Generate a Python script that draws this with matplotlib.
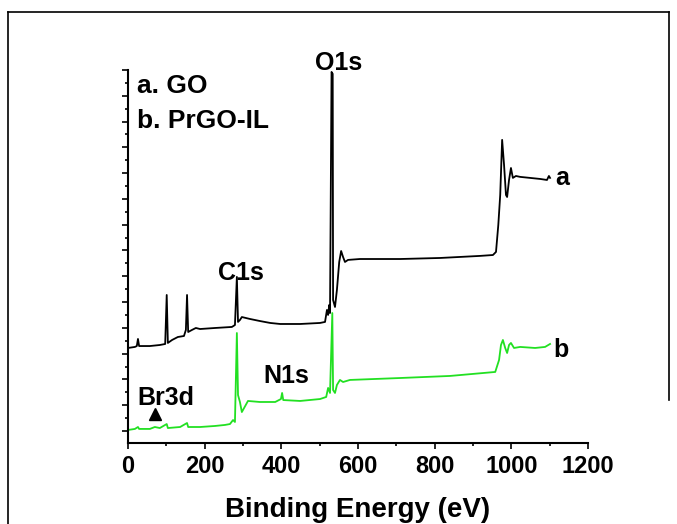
import matplotlib
matplotlib.use("Agg")
import matplotlib.pyplot as plt
from matplotlib.ticker import MultipleLocator, NullFormatter
from matplotlib.lines import Line2D

plt.rcParams['font.family'] = ['Liberation Sans', 'DejaVu Sans']
plt.rcParams['font.weight'] = 'bold'

# survey spectrum a: GO (binding energy eV, intensity a.u.)
go_ev = [0, 18, 23, 26, 29, 57, 83, 97, 101, 104, 115, 130, 146, 151, 154, 157,
         167, 177, 188, 227, 271, 279, 284, 287, 292, 297, 318, 344, 371, 397,
         449, 501, 514, 519, 522, 525, 527, 531, 534, 535, 540, 545, 551, 556, 561,
         566, 574, 605, 710, 814, 918, 952, 960, 966, 971, 976, 981, 986, 989,
         994, 999, 1004, 1012, 1023, 1049, 1075, 1093, 1098, 1101]
go_int = [6.44, 6.52, 6.59, 7.14, 6.59, 6.59, 6.67, 6.75, 10.55, 6.83, 7.06, 7.29,
          7.37, 7.84, 10.55, 7.68, 7.84, 7.99, 7.91, 7.99, 8.07, 8.22, 11.95, 8.46,
          8.61, 8.84, 8.69, 8.53, 8.38, 8.30, 8.30, 8.38, 8.46, 9.39, 9.0, 9.78,
          9.15, 27.85, 27.7, 10.16, 9.62, 10.94, 13.11, 13.96, 13.5, 13.11, 13.27, 13.34,
          13.34, 13.42, 13.58, 13.65, 13.89, 15.98, 18.31, 22.58, 20.64, 18.31,
          18.15, 19.47, 20.4, 19.63, 19.78, 19.71, 19.63, 19.55, 19.47, 19.78, 19.63]

# survey spectrum b: PrGO-IL
il_ev = [0, 18, 26, 29, 57, 70, 83, 101, 104, 136, 154, 157, 188, 227, 253, 266,
         274, 279, 284, 287, 292, 297, 313, 344, 384, 399, 402, 405, 449, 501,
         517, 522, 527, 533, 535, 540, 545, 553, 561, 579, 710, 840, 958, 968,
         973, 978, 984, 989, 994, 999, 1007, 1023, 1062, 1088, 1101]
il_int = [0.08, 0.16, 0.31, 0.16, 0.16, 0.31, 0.23, 0.54, 0.23, 0.31, 0.62, 0.31,
          0.31, 0.39, 0.47, 0.54, 0.85, 0.70, 7.6, 2.79, 2.25, 1.47, 2.33, 2.25,
          2.25, 2.48, 2.95, 2.40, 2.33, 2.48, 2.64, 3.34, 2.95, 9.15, 3.18, 2.95,
          3.57, 3.96, 3.80, 3.96, 4.11, 4.27, 4.58, 5.51, 6.67, 7.06, 6.44, 6.05,
          6.67, 6.83, 6.44, 6.52, 6.44, 6.52, 6.75]

# peak labels: text, eV, intensity (baseline position)
peak_labels = [("O1s", 488, 28.0), ("C1s", 235, 11.71), ("N1s", 352, 3.72),
               ("Br3d", 23.5, 2.02), ("a", 1114, 19.08), ("b", 1109, 5.74)]
legend_lines = [("a. GO", 23, 26.22), ("b. PrGO-IL", 23, 23.5)]
br_marker = (70, 1.32)

fig = plt.figure(figsize=(6.77, 5.24), dpi=100)
ax = fig.add_axes([128 / 677, 1 - 443 / 524, 460 / 677, 373 / 524])

ax.plot(go_ev, go_int, color='black', lw=1.3)
ax.plot(il_ev, il_int, color='#22e022', lw=1.3)
ax.plot([br_marker[0]], [br_marker[1]], marker='^', color='black', ms=9,
        linestyle='none', clip_on=False)

for txt, xv, yv in peak_labels:
    ax.text(xv, yv, txt, fontsize=18, fontweight='bold', ha='left',
            va='baseline', clip_on=False)
for txt, xv, yv in legend_lines:
    ax.text(xv, yv, txt, fontsize=19, fontweight='bold', ha='left',
            va='baseline', clip_on=False)

ax.set_xlim(0, 1200)
ax.set_ylim(-12 / 12.89, 28)
ax.xaxis.set_major_locator(MultipleLocator(200))
ax.xaxis.set_minor_locator(MultipleLocator(100))
ax.yaxis.set_major_locator(MultipleLocator(2))
ax.yaxis.set_minor_locator(MultipleLocator(1))
ax.yaxis.set_major_formatter(NullFormatter())
ax.tick_params(axis='both', which='major', direction='out', length=4.5, width=1.2)
ax.tick_params(axis='both', which='minor', direction='out', length=2.5, width=1.2)
ax.tick_params(axis='x', labelsize=17, pad=4)
for lab in ax.get_xticklabels():
    lab.set_fontweight('bold')
ax.spines['top'].set_visible(False)
ax.spines['right'].set_visible(False)
ax.spines['left'].set_linewidth(1.5)
ax.spines['bottom'].set_linewidth(1.5)
ax.set_xlabel("Binding Energy (eV)", fontsize=20, fontweight='bold', labelpad=14)

# outer frame of the figure
fr = dict(color='black', lw=1.2, transform=fig.transFigure)
fig.add_artist(Line2D([8 / 677, 8 / 677], [0, 1 - 12 / 524], **fr))
fig.add_artist(Line2D([8 / 677, 669 / 677], [1 - 12 / 524, 1 - 12 / 524], **fr))
fig.add_artist(Line2D([669 / 677, 669 / 677], [1 - 12 / 524, 1 - 400 / 524], **fr))

fig.savefig("out.png", dpi=100)
